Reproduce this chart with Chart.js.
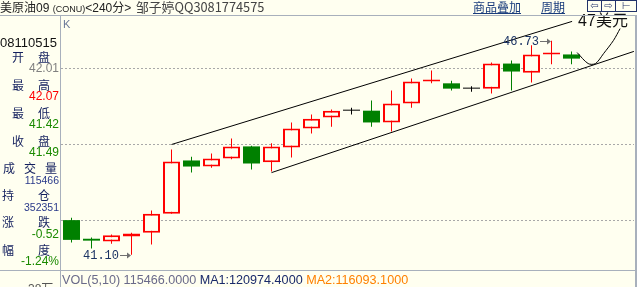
<!DOCTYPE html>
<html>
<head>
<meta charset="utf-8">
<script src="https://cdn.jsdelivr.net/npm/chart.js@4.4.0/dist/chart.umd.min.js"></script>
<style>
  body { margin: 0; background: #fffff0; width: 637px; height: 287px; overflow: hidden; position: relative;
         font-family: "Liberation Sans", Arial, sans-serif; }
  .t { position: absolute; white-space: nowrap; height: 14px; line-height: 14px; font-size: 12px; }
  .cn { font-family: "Noto Sans CJK SC", sans-serif; }
  .lbl { position: absolute; display: flex; justify-content: space-between; height: 14px; line-height: 14px;
         font-family: "Noto Sans CJK SC", sans-serif; font-size: 12px; color: #14205e; }
  .num { position: absolute; left: 0; width: 59px; text-align: right; height: 14px; line-height: 14px; font-size: 12px; }
  .hl { position: absolute; left: 0; width: 637px; height: 1px; background: #a8b0bc; }
  .link { color: #1a3c7c; text-decoration: underline; font-family: "Noto Sans CJK SC", sans-serif; }
  .btn { position: absolute; top: 0; width: 13px; height: 10px; border: 1px solid #22336a; font-size: 10px;
         line-height: 10px; text-align: center; color: #22336a; font-family: "DejaVu Sans", sans-serif; }
  canvas { position: absolute; left: 0; top: 0; }
</style>
</head>
<body>
<canvas id="kline" width="637" height="287"></canvas>

<div class="t" style="left:0;top:0;color:#222;"><span class="cn">美原油</span>09 <span style="font-size:9px;">(CONU)</span><span>&lt;240</span><span class="cn">分</span>&gt;</div>
<div class="t cn" style="left:136px;top:0;color:#444;font-size:12.8px;">邹子婷QQ3081774575</div>
<div class="t" style="left:473px;top:0;"><span class="link">商品叠加</span></div>
<div class="t" style="left:541px;top:0;"><span class="link">周期</span></div>
<div class="btn" style="left:587px;">⇦</div>
<div class="btn" style="left:601px;">⇨</div>
<div class="btn" style="left:615px;width:20px;">⊢</div>

<div class="hl" style="top:15px;"></div>
<div class="hl" style="top:270px;"></div>
<div style="position:absolute;left:60px;top:15px;width:1px;height:272px;background:#a8b0bc;"></div>
<div style="position:absolute;left:635px;top:15px;width:2px;height:272px;background:#a8b0bc;"></div>
<div class="t" style="left:63px;top:17px;font-size:11px;color:#6a7898;">K</div>

<div class="t" style="left:0;top:36px;font-size:13px;color:#111;">08110515</div>
<div class="lbl" style="left:12px;top:50px;width:38px;"><span>开</span><span>盘</span></div>
<div class="num" style="top:61px;color:#808080;">42.01</div>
<div class="lbl" style="left:12px;top:78px;width:38px;"><span>最</span><span>高</span></div>
<div class="num" style="top:89px;color:#ff0000;">42.07</div>
<div class="lbl" style="left:12px;top:106px;width:38px;"><span>最</span><span>低</span></div>
<div class="num" style="top:117px;color:#1a8a00;">41.42</div>
<div class="lbl" style="left:12px;top:134px;width:38px;"><span>收</span><span>盘</span></div>
<div class="num" style="top:145px;color:#1a8a00;">41.49</div>
<div class="lbl" style="left:3px;top:161px;width:54px;"><span>成</span><span>交</span><span>量</span></div>
<div class="num" style="top:173px;color:#2a3a8a;font-size:10.5px;">115466</div>
<div class="lbl" style="left:2px;top:188px;width:48px;"><span>持</span><span>仓</span></div>
<div class="num" style="top:200px;color:#2a3a8a;font-size:10.5px;">352351</div>
<div class="lbl" style="left:2px;top:215px;width:48px;"><span>涨</span><span>跌</span></div>
<div class="num" style="top:227px;color:#1a8a00;">-0.52</div>
<div class="lbl" style="left:2px;top:243px;width:48px;"><span>幅</span><span>度</span></div>
<div class="num" style="top:254px;color:#1a8a00;">-1.24%</div>
<div class="t" style="left:28px;top:281px;color:#555;"><span>38</span><span class="cn">万</span></div>

<div class="t" style="left:62px;top:273px;font-size:12.6px;"><span style="color:#6a6a8a;">VOL(5,10) 115466.0000</span> <span style="color:#1a2a6a;">MA1:120974.4000</span> <span style="color:#ff8000;">MA2:116093.1000</span></div>

<script>
const opens  = [42.01, 41.52, 41.45, 41.58, 41.68, 42.18, 43.58, 43.42, 43.63, 43.95, 43.53, 43.92, 44.42,
                44.71, 44.89, 44.89, 44.58, 45.08, 45.66, 45.61, 45.47, 45.47, 46.13, 45.89, 46.37, 46.37];
const highs  = [42.07, 41.55, 41.63, 41.68, 42.26, 43.87, 43.68, 43.76, 44.16, 43.97, 44.03, 44.58, 44.79,
                44.92, 44.97, 45.16, 45.42, 45.74, 45.95, 45.68, 45.53, 46.16, 46.21, 46.61, 46.73, 46.45];
const lows   = [41.42, 41.26, 41.39, 41.10, 41.37, 42.18, 43.26, 43.39, 43.61, 43.34, 43.29, 43.66, 44.29,
                44.47, 44.79, 44.47, 44.34, 44.97, 45.61, 45.42, 45.39, 45.34, 45.42, 45.63, 46.11, 46.11];
const closes = [41.49, 41.47, 41.61, 41.66, 42.18, 43.55, 43.42, 43.63, 43.95, 43.50, 43.95, 44.42, 44.68,
                44.89, 44.89, 44.58, 45.08, 45.66, 45.71, 45.47, 45.47, 46.13, 45.92, 46.37, 46.42, 46.26];

const gridLevels = [42, 44, 46];

// hand drawn channel and the "47" mark (x = bar index, y = price)
const upperTrend = [{ x: 5.0, y: 44.0 }, { x: 25.03, y: 47.24 }];
const lowerTrend = [{ x: 10.0, y: 43.26 }, { x: 28.12, y: 46.45 }];
const checkCurve = [{ x: 25.28, y: 46.42 }, { x: 25.83, y: 46.13 }, { x: 26.2, y: 46.13 },
                    { x: 26.6, y: 46.39 }, { x: 27.1, y: 46.74 }, { x: 27.43, y: 47.05 }];
const priceNotes = [{ i: 3, v: 41.10, text: '41.10' }, { i: 24, v: 46.73, text: '46.73' }];
const targetNote = { x: 25.33, y: 47.24, text: '47美元' };

const upColor = '#ff0000';
const downColor = '#008000';
const flatColor = '#000000';
const bgColor = '#fffff0';

const idx = opens.map((_, i) => i);
const dir = idx.map(i => closes[i] > opens[i] ? 1 : (closes[i] < opens[i] ? -1 : 0));
const colorOf = i => dir[i] > 0 ? upColor : (dir[i] < 0 ? downColor : flatColor);

const overlay = {
  id: 'overlay',
  beforeDatasetsDraw(chart) {
    const { ctx, chartArea, scales: { y } } = chart;
    ctx.save();
    ctx.strokeStyle = '#a8a8a8';
    ctx.lineWidth = 1;
    ctx.setLineDash([2, 2]);
    gridLevels.forEach(v => {
      const py = Math.floor(y.getPixelForValue(v)) + 0.5;
      ctx.beginPath();
      ctx.moveTo(chartArea.left, py);
      ctx.lineTo(chartArea.right, py);
      ctx.stroke();
    });
    ctx.restore();
  },
  afterDatasetsDraw(chart) {
    const { ctx, scales: { x, y } } = chart;
    ctx.save();
    priceNotes.forEach(n => {
      const px = Math.round(x.getPixelForValue(n.i));
      const py = Math.round(y.getPixelForValue(n.v)) + 0.5;
      ctx.strokeStyle = '#707070';
      ctx.fillStyle = '#707070';
      ctx.lineWidth = 1;
      ctx.beginPath();
      ctx.moveTo(px - 12, py);
      ctx.lineTo(px - 2, py);
      ctx.stroke();
      ctx.beginPath();
      ctx.moveTo(px - 1, py);
      ctx.lineTo(px - 5, py - 3);
      ctx.lineTo(px - 5, py + 3);
      ctx.closePath();
      ctx.fill();
      ctx.fillStyle = '#1c3464';
      ctx.font = '12px "Liberation Mono", monospace';
      ctx.textAlign = 'right';
      ctx.textBaseline = 'middle';
      ctx.fillText(n.text, px - 13, py);
    });
    ctx.fillStyle = '#111';
    ctx.font = '16px "Liberation Sans", "Noto Sans CJK SC", sans-serif';
    ctx.textAlign = 'left';
    ctx.textBaseline = 'middle';
    ctx.fillText(targetNote.text, x.getPixelForValue(targetNote.x), y.getPixelForValue(targetNote.y));
    ctx.restore();
  }
};

const lineStyle = { type: 'line', borderColor: '#000', borderWidth: 1, pointRadius: 0, fill: false, order: -1 };

new Chart(document.getElementById('kline').getContext('2d'), {
  type: 'bar',
  data: {
    datasets: [
      { ...lineStyle, label: 'upper', data: upperTrend },
      { ...lineStyle, label: 'lower', data: lowerTrend },
      { ...lineStyle, label: 'mark', data: checkCurve, tension: 0.3 },
      {
        label: 'body',
        data: idx.map(i => ({ x: i, y: [opens[i], closes[i]] })),
        backgroundColor: idx.map(i => dir[i] > 0 ? bgColor : colorOf(i)),
        borderColor: idx.map(colorOf),
        borderWidth: idx.map(i => dir[i] > 0 ? 2 : 0),
        borderSkipped: false,
        inflateAmount: 0,
        barThickness: 17,
        minBarLength: 1,
        grouped: false,
        order: 1
      },
      {
        label: 'wick',
        data: idx.map(i => ({ x: i, y: [lows[i], highs[i]] })),
        backgroundColor: idx.map(colorOf),
        borderWidth: 0,
        inflateAmount: 0,
        barThickness: 1,
        grouped: false,
        order: 2
      }
    ]
  },
  options: {
    responsive: false,
    animation: false,
    events: [],
    layout: { padding: { left: 61, right: 3, top: 15, bottom: 17 } },
    scales: {
      x: { type: 'linear', display: false, min: -0.525, max: 28.125, offset: false },
      y: { type: 'linear', display: false, min: 40.6974, max: 47.4079 }
    },
    plugins: { legend: { display: false }, tooltip: { enabled: false } }
  },
  plugins: [overlay]
});
</script>
</body>
</html>
